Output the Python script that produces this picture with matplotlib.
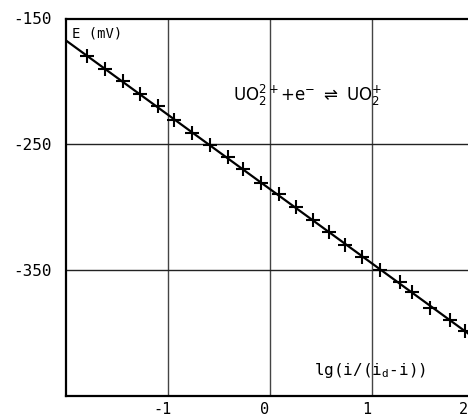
import matplotlib
matplotlib.use("Agg")
import matplotlib.pyplot as plt
import matplotlib.transforms as mtransforms

# Measured points: lg(i/(id-i)) vs E (mV)
x_pts = [-1.79, -1.62, -1.44, -1.27, -1.10, -0.94, -0.76, -0.59, -0.41, -0.26,
         -0.09, 0.09, 0.25, 0.42, 0.58, 0.74, 0.90, 1.08, 1.27, 1.39,
         1.57, 1.76, 1.91]
e_pts = [-180, -190, -200, -210, -220, -231, -241, -251, -260, -270,
         -281, -290, -300, -310, -320, -330, -340, -350, -360, -368,
         -380, -390, -399]

# Fitted line endpoints
x_line = [-2.0, 2.05]
e_line = [-167.5, -407]

x_ticks = [-1, 0, 1, 2]
y_ticks = [-150, -250, -350]

fig = plt.figure(figsize=(4.68, 4.18), dpi=100)
ax = fig.add_axes([66/468, (418-395.5)/418, (474-66)/468, (395.5-18.5)/418])

ax.set_xlim(-2, 2)
ax.set_ylim(-450, -150)

for xv in [-1, 0, 1]:
    ax.axvline(xv, color="#444444", lw=1.0, zorder=1)
for yv in [-250, -350]:
    ax.axhline(yv, color="#222222", lw=1.0, zorder=1)

ax.plot(x_line, e_line, color="black", lw=1.6, zorder=3, clip_on=True)
ax.plot(x_pts, e_pts, linestyle="none", marker="+", markersize=10,
        markeredgewidth=1.5, color="black", zorder=4)

mono = "DejaVu Sans Mono"
ax.set_xticks(x_ticks)
ax.set_xticklabels([str(v) for v in x_ticks], family=mono, fontsize=11)
ax.set_yticks(y_ticks)
ax.set_yticklabels([str(v) for v in y_ticks], family=mono, fontsize=11.5)
ax.tick_params(length=0)
ax.tick_params(axis="x", pad=5)
ax.tick_params(axis="y", pad=10)

shift = mtransforms.ScaledTranslation(-5/100, 0, fig.dpi_scale_trans)
extra = mtransforms.ScaledTranslation(-6/100, 0, fig.dpi_scale_trans)
labs = ax.get_xticklabels()
for i, lab in enumerate(labs):
    t = lab.get_transform() + shift
    if i == len(labs) - 1:
        t = t + extra
    lab.set_transform(t)

for s in ["top", "left", "bottom", "right"]:
    ax.spines[s].set_linewidth(1.6)
    ax.spines[s].set_color("black")

ax.text(-1.94, -162, "E (mV)", fontsize=10, family=mono, ha="left", va="center")
ax.text(0.98, -430, r"lg(i/(i$_\mathregular{d}$-i))", fontsize=11.5, family=mono,
        ha="center", va="center")
ax.text(-0.36, -211, r"UO$_2^{2+}$+e$^{-}$ $\rightleftharpoons$ UO$_2^{+}$",
        fontsize=12, ha="left", va="center")

fig.savefig("out.png", dpi=100)
